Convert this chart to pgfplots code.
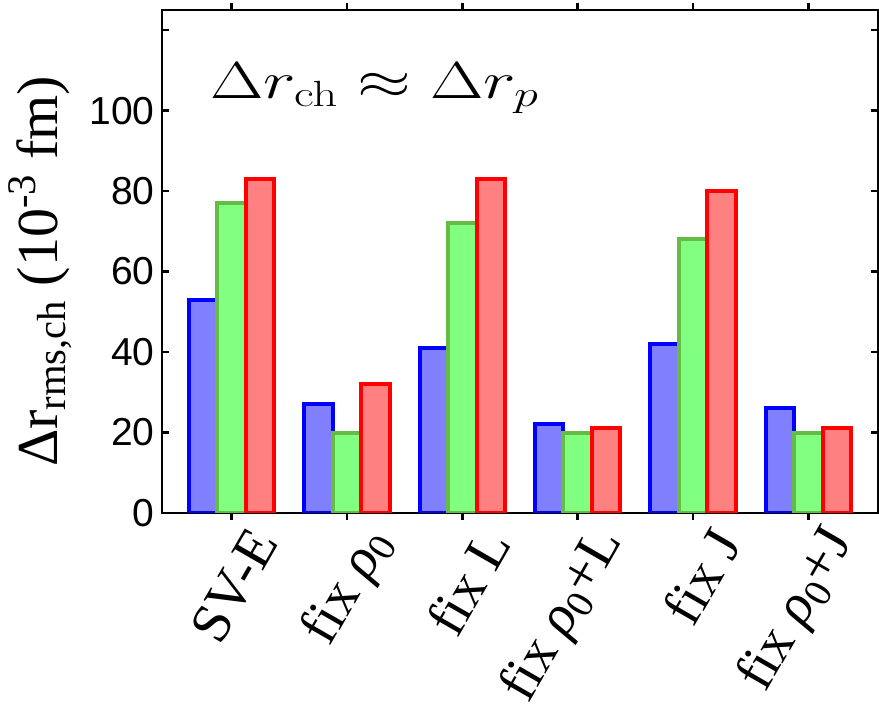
\RequirePackage{fix-cm}
\documentclass[border=0pt]{standalone}
\usepackage{pgfplots}
\pgfplotsset{compat=1.18}
\usepackage[no-math]{fontspec}
\setmainfont{Liberation Serif}
\newfontfamily\arial{Liberation Sans}

\definecolor{bline}{RGB}{0,0,255}
\definecolor{bfill}{RGB}{128,128,255}
\definecolor{gline}{RGB}{102,187,68}
\definecolor{gfill}{RGB}{128,255,128}
\definecolor{rline}{RGB}{255,0,0}
\definecolor{rfill}{RGB}{255,128,128}

\newcommand{\rhoz}{\textit{ρ}\textsubscript{0}}

\begin{document}
\begin{tikzpicture}
\begin{axis}[
  scale only axis, width=716pt, height=503pt,
  xmin=-0.6, xmax=5.6, ymin=0, ymax=125,
  axis line style={line width=2.8pt},
  tick align=inside, major tick length=7pt,
  tick style={line width=2.5pt, black},
  xtick={0,...,5},
  xticklabels={SV-E, fix \rhoz, fix L, fix \rhoz+L, fix J, fix \rhoz+J},
  xticklabel style={font=\fontsize{56}{56}\selectfont, xshift=34pt, yshift=-12pt, rotate=60, anchor=east, inner sep=2pt},
  ytick={0,20,...,120}, yticklabels={0,20,40,60,80,100,},
  yticklabel style={font=\arial\fontsize{39}{39}\selectfont, xshift=-4pt},
  /pgf/number format/assume math mode=true,
  ylabel={\fontsize{58}{58}\selectfont Δr\textsubscript{rms,ch} (10\textsuperscript{-3} fm)},
  ylabel style={at={(axis description cs:-0.1466,0.48)}, anchor=base},
  ybar, bar width=28.5pt,
  every axis plot/.append style={line width=4pt},
]
\addplot[bar shift=-28.5pt, draw=bline, fill=bfill] coordinates {(0,53) (1,27) (2,41) (3,22) (4,42) (5,26)};
\addplot[bar shift=0pt, draw=gline, fill=gfill] coordinates {(0,77) (1,20) (2,72) (3,20) (4,68) (5,20)};
\addplot[bar shift=28.5pt, draw=rline, fill=rfill] coordinates {(0,83) (1,32) (2,83) (3,21) (4,80) (5,21)};
\node[anchor=base west, inner sep=0pt] at (axis cs:-0.184,103)
  {\scalebox{1.33}[1]{\fontsize{52}{54}\selectfont$\Delta r_{\mathrm{ch}}\approx\Delta r_p$}};
\end{axis}
\pgfresetboundingbox
\path (-162pt,-201pt) rectangle (717pt,513pt);
\end{tikzpicture}
\end{document}
